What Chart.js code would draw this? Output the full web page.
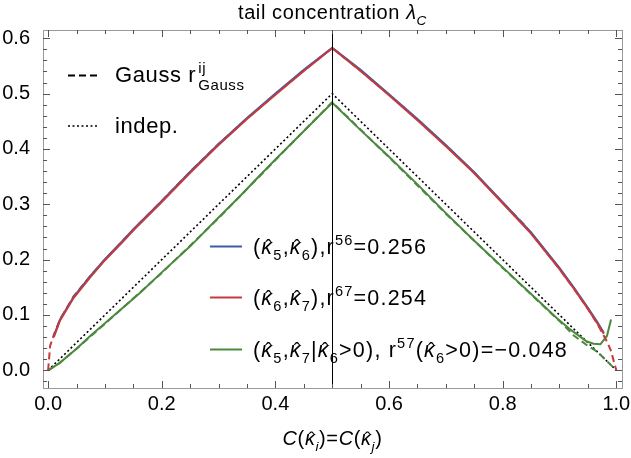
<!DOCTYPE html>
<html lang="en">
<head>
    <meta charset="UTF-8">
    <title>Tail concentration</title>
    <script src="https://cdn.jsdelivr.net/npm/chart.js"></script>
    <style>
        html, body { margin: 0; padding: 0; background: #fff; }
        #wrap { width: 631px; height: 458px; }
    </style>
</head>
<body>
    <div id="wrap"><canvas id="tailChart" width="631" height="458"></canvas></div>
    <script>
        // axis ticks
        var xTicks = [0, 0.2, 0.4, 0.6, 0.8, 1.0];
        var yTicks = [0, 0.1, 0.2, 0.3, 0.4, 0.5, 0.6];
        var splitX = 0.5;

        // Gauss copula, r = 0.256 (dashed red)
        var gaussHighX = [0, 0.0035, 0.01, 0.021, 0.045, 0.074, 0.1, 0.133, 0.15, 0.2, 0.25, 0.3, 0.35, 0.4, 0.45, 0.5,
            0.55, 0.6, 0.65, 0.7, 0.725, 0.75, 0.8, 0.837, 0.85, 0.9, 0.925, 0.95, 0.966, 0.9835, 0.99, 1.0];
        var gaussHighY = [0, 0.044, 0.064, 0.092, 0.134, 0.170, 0.200, 0.236, 0.254, 0.306, 0.359, 0.409, 0.455, 0.499, 0.542, 0.5825,
            0.541, 0.498, 0.453, 0.406, 0.382, 0.357, 0.303, 0.264, 0.248, 0.183, 0.148, 0.111, 0.085, 0.052, 0.037, 0];

        // (k5,k6) empirical, blue
        var k56X = [0.01, 0.021, 0.045, 0.074, 0.1, 0.133, 0.15, 0.2, 0.25, 0.3, 0.35, 0.4, 0.45, 0.5,
            0.55, 0.6, 0.65, 0.7, 0.75, 0.8, 0.85, 0.9, 0.925, 0.95, 0.966, 0.978];
        var k56Y = [0.062, 0.092, 0.133, 0.170, 0.201, 0.236, 0.255, 0.306, 0.359, 0.409, 0.456, 0.500, 0.543, 0.583,
            0.543, 0.499, 0.454, 0.407, 0.358, 0.304, 0.249, 0.185, 0.150, 0.113, 0.088, 0.068];

        // (k6,k7) empirical, red
        var k67X = [0.01, 0.021, 0.045, 0.074, 0.1, 0.133, 0.15, 0.2, 0.25, 0.3, 0.35, 0.4, 0.45, 0.5,
            0.55, 0.6, 0.65, 0.7, 0.75, 0.8, 0.85, 0.9, 0.925, 0.95, 0.966, 0.978];
        var k67Y = [0.060, 0.090, 0.131, 0.168, 0.199, 0.234, 0.253, 0.304, 0.357, 0.407, 0.454, 0.498, 0.541, 0.582,
            0.541, 0.497, 0.452, 0.405, 0.356, 0.302, 0.247, 0.183, 0.148, 0.111, 0.086, 0.066];

        // Gauss copula, r = -0.048 (dashed green)
        var gaussLowX = [0, 0.02, 0.05, 0.1, 0.2, 0.3, 0.4, 0.5, 0.6, 0.7, 0.8, 0.85, 0.9, 0.925, 0.95, 0.966, 0.98, 1.0];
        var gaussLowY = [0, 0.013, 0.039, 0.084, 0.176, 0.275, 0.380, 0.4847, 0.385, 0.283, 0.185, 0.137, 0.089, 0.063, 0.044, 0.034, 0.020, 0];

        // (k5,k7 | k6>0) empirical, green
        var k57X = [0, 0.02, 0.05, 0.074, 0.1, 0.162, 0.2, 0.25, 0.3, 0.338, 0.364, 0.4, 0.444, 0.5,
            0.55, 0.6, 0.65, 0.7, 0.75, 0.8, 0.85, 0.8955, 0.92, 0.948, 0.96, 0.972, 0.9835, 0.9907];
        var k57Y = [0, 0.013, 0.039, 0.062, 0.085, 0.140, 0.177, 0.224, 0.276, 0.315, 0.343, 0.381, 0.426, 0.4835,
            0.434, 0.386, 0.336, 0.284, 0.234, 0.186, 0.138, 0.094, 0.073, 0.052, 0.048, 0.047, 0.062, 0.092];

        // independence
        var indepX = [0, 0.5, 1.0];
        var indepY = [0, 0.5, 0];

        var FONT = '"Liberation Sans", Arial, sans-serif';
        var BLUE = '#3d5ca3', RED = '#c63a3c', GREEN = '#4b8a3e';

        function pts(xs, ys) {
            return xs.map(function (x, i) { return { x: x, y: ys[i] }; });
        }

        function setFont(ctx, s, size) {
            var fs = size;
            if (s.indexOf('b') >= 0 || s.indexOf('p') >= 0) fs = size * 0.68;
            ctx.font = (s.indexOf('i') >= 0 || s === 'k' ? 'italic ' : '') + fs.toFixed(1) + 'px ' + FONT;
        }

        // text in pieces: n normal, i italic, b subscript, p superscript, k hatted kappa
        function rich(ctx, x, y, parts, size, draw) {
            parts.forEach(function (p) {
                var t = p[0], s = p[1] || 'n';
                var dy = 0;
                if (s.indexOf('b') >= 0) dy = size * 0.28;
                if (s.indexOf('p') >= 0) dy = -size * 0.42;
                setFont(ctx, s, size);
                var w = ctx.measureText(t).width;
                if (draw !== false) {
                    ctx.fillText(t, x, y + dy);
                    if (s === 'k') {
                        var al = ctx.textAlign;
                        ctx.textAlign = 'center';
                        ctx.font = (size * 0.9).toFixed(1) + 'px ' + FONT;
                        ctx.fillText('\u02C6', x + w * 0.5 + size * 0.08, y - size * 0.02);
                        ctx.textAlign = al;
                    }
                }
                x += w;
            });
            return x;
        }

        function richCentered(ctx, cx, y, parts, size) {
            var w = rich(ctx, 0, 0, parts, size, false);
            rich(ctx, cx - w / 2, y, parts, size);
        }

        var K = 'κ';

        var decorations = {
            id: 'decorations',
            afterDatasetsDraw: function (chart) {
                var ctx = chart.ctx, a = chart.chartArea;
                var xs = chart.scales.x;
                ctx.save();
                // split line
                var px = Math.round(xs.getPixelForValue(splitX)) + 0.5;
                ctx.strokeStyle = '#000';
                ctx.lineWidth = 1;
                ctx.beginPath();
                ctx.moveTo(px, a.top);
                ctx.lineTo(px, a.bottom);
                ctx.stroke();
                ctx.restore();
            },
            afterDraw: function (chart) {
                var ctx = chart.ctx, a = chart.chartArea;
                var xs = chart.scales.x, ys = chart.scales.y;
                ctx.save();
                // frame
                ctx.strokeStyle = '#9a9a9a';
                ctx.lineWidth = 1;
                ctx.strokeRect(Math.round(a.left) + 0.5, Math.round(a.top) + 0.5,
                    Math.round(a.right - a.left), Math.round(a.bottom - a.top));
                // ticks inward
                ctx.strokeStyle = '#555';
                var i, v, p, len;
                for (i = 0; i <= 20; i++) {
                    v = i * 0.05;
                    len = (i % 4 === 0) ? 7 : 4;
                    p = Math.round(xs.getPixelForValue(v)) + 0.5;
                    ctx.beginPath();
                    ctx.moveTo(p, a.bottom); ctx.lineTo(p, a.bottom - len);
                    ctx.moveTo(p, a.top); ctx.lineTo(p, a.top + len);
                    ctx.stroke();
                }
                for (i = -1; i <= 30; i++) {
                    v = i * 0.02;
                    if (v > ys.max) break;
                    len = (i % 5 === 0) ? 7 : 4;
                    p = Math.round(ys.getPixelForValue(v)) + 0.5;
                    ctx.beginPath();
                    ctx.moveTo(a.left, p); ctx.lineTo(a.left + len, p);
                    ctx.moveTo(a.right, p); ctx.lineTo(a.right - len, p);
                    ctx.stroke();
                }

                ctx.fillStyle = '#000';
                ctx.textBaseline = 'alphabetic';
                ctx.textAlign = 'left';
                var cx = (a.left + a.right) / 2;

                // title
                ctx.letterSpacing = '0.6px';
                richCentered(ctx, cx, 19, [['tail concentration ', 'n'], ['λ', 'i'], ['C', 'ib']], 20);

                // x axis title
                richCentered(ctx, cx, 445, [['C', 'i'], ['(', 'n'], [K, 'k'], ['i', 'ib'], [')=', 'n'],
                    ['C', 'i'], ['(', 'n'], [K, 'k'], ['j', 'ib'], [')', 'n']], 20);

                // top-left legend
                ctx.strokeStyle = '#000';
                ctx.lineWidth = 2;
                ctx.setLineDash([7, 4]);
                ctx.beginPath(); ctx.moveTo(68, 75.5); ctx.lineTo(97, 75.5); ctx.stroke();
                ctx.lineWidth = 1.6;
                ctx.setLineDash([2, 2.5]);
                ctx.beginPath(); ctx.moveTo(68, 126); ctx.lineTo(97, 126); ctx.stroke();
                ctx.setLineDash([]);
                var xe = rich(ctx, 115, 82, [['Gauss ', 'n'], ['r', 'n']], 22);
                rich(ctx, xe + 2, 82, [['ij', 'p']], 22);
                rich(ctx, xe + 2, 84, [['Gauss', 'b']], 22);
                rich(ctx, 115, 133, [['indep.', 'n']], 22);

                // lower legend
                ctx.letterSpacing = '1.2px';
                var rows = [
                    { c: BLUE, y: 246.5, parts: [['(', 'n'], [K, 'k'], ['5', 'b'], [',', 'n'], [K, 'k'], ['6', 'b'], ['),r', 'n'], ['56', 'p'], ['=0.256', 'n']] },
                    { c: RED, y: 297.5, parts: [['(', 'n'], [K, 'k'], ['6', 'b'], [',', 'n'], [K, 'k'], ['7', 'b'], ['),r', 'n'], ['67', 'p'], ['=0.254', 'n']] },
                    { c: GREEN, y: 349.5, parts: [['(', 'n'], [K, 'k'], ['5', 'b'], [',', 'n'], [K, 'k'], ['7', 'b'], ['|', 'n'], [K, 'k'], ['6', 'b'],
                        ['>0), r', 'n'], ['57', 'p'], ['(', 'n'], [K, 'k'], ['6', 'b'], ['>0)=\u22120.048', 'n']] }
                ];
                rows.forEach(function (r) {
                    ctx.strokeStyle = r.c;
                    ctx.lineWidth = 2;
                    ctx.beginPath(); ctx.moveTo(210, r.y); ctx.lineTo(242, r.y); ctx.stroke();
                    rich(ctx, 253, r.y + 7.5, r.parts, 21.5);
                });
                ctx.letterSpacing = '0px';
                ctx.restore();
            }
        };

        var ctx = document.getElementById('tailChart').getContext('2d');
        var chart = new Chart(ctx, {
            type: 'line',
            data: {
                datasets: [
                    { label: 'k67', data: pts(k67X, k67Y), borderColor: RED, borderWidth: 2, order: 1 },
                    { label: 'k56', data: pts(k56X, k56Y), borderColor: BLUE, borderWidth: 2, order: 2 },
                    { label: 'gaussHigh', data: pts(gaussHighX, gaussHighY), borderColor: RED, borderWidth: 2, borderDash: [7, 4], order: 3 },
                    { label: 'k57', data: pts(k57X, k57Y), borderColor: GREEN, borderWidth: 2, order: 4 },
                    { label: 'gaussLow', data: pts(gaussLowX, gaussLowY), borderColor: GREEN, borderWidth: 2, borderDash: [7, 4], order: 5 },
                    { label: 'indep', data: pts(indepX, indepY), borderColor: '#000', borderWidth: 1.6, borderDash: [2, 2.5], order: 6 }
                ]
            },
            options: {
                responsive: false,
                animation: false,
                elements: { point: { radius: 0 }, line: { tension: 0, fill: false } },
                layout: { padding: { left: 0, right: 9, top: 30, bottom: 0 } },
                plugins: { legend: { display: false }, tooltip: { enabled: false }, title: { display: false } },
                scales: {
                    x: {
                        type: 'linear',
                        min: -0.009,
                        max: 1.01,
                        grid: { display: false },
                        border: { display: false },
                        afterBuildTicks: function (s) { s.ticks = xTicks.map(function (v) { return { value: v }; }); },
                        afterFit: function (s) { s.height = 70; },
                        ticks: {
                            color: '#000',
                            padding: -4,
                            maxRotation: 0,
                            autoSkip: false,
                            font: { family: FONT, size: 20 },
                            callback: function (v) { return Number(v).toFixed(1); }
                        }
                    },
                    y: {
                        type: 'linear',
                        min: -0.032,
                        max: 0.615,
                        grid: { display: false },
                        border: { display: false },
                        afterBuildTicks: function (s) { s.ticks = yTicks.map(function (v) { return { value: v }; }); },
                        afterFit: function (s) { s.width = 43; },
                        ticks: {
                            color: '#000',
                            padding: 5,
                            autoSkip: false,
                            font: { family: FONT, size: 20 },
                            callback: function (v) { return Number(v).toFixed(1); }
                        }
                    }
                }
            },
            plugins: [decorations]
        });
    </script>
</body>
</html>
